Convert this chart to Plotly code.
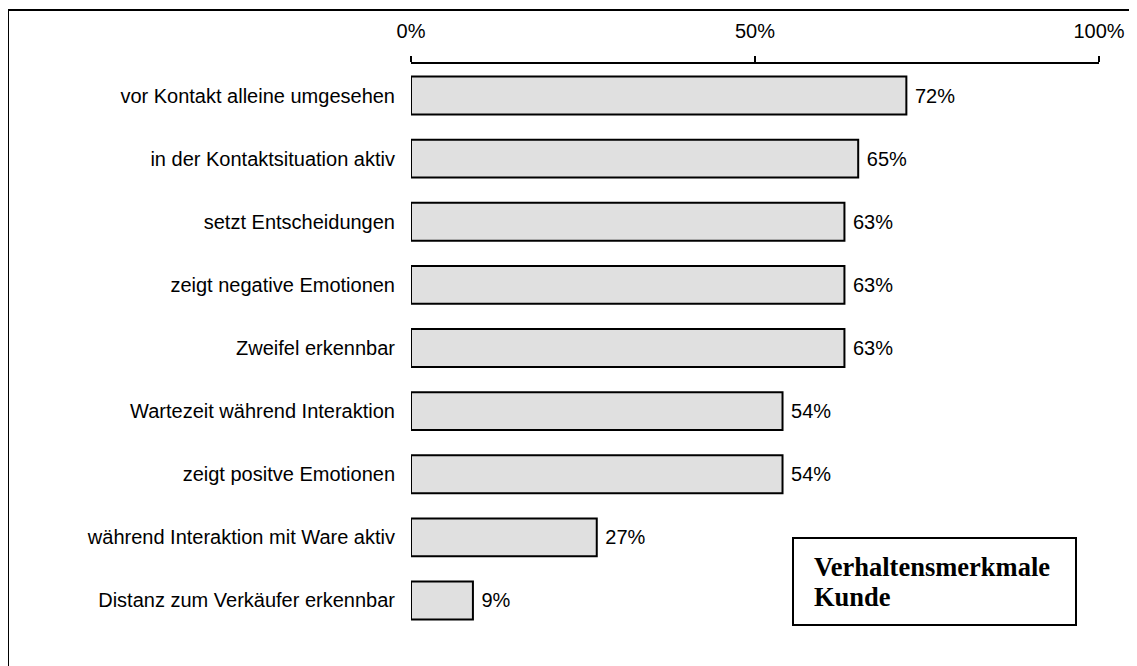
import plotly.graph_objects as go

categories = [
    "vor Kontakt alleine umgesehen",
    "in der Kontaktsituation aktiv",
    "setzt Entscheidungen",
    "zeigt negative Emotionen",
    "Zweifel erkennbar",
    "Wartezeit während Interaktion",
    "zeigt positve Emotionen",
    "während Interaktion mit Ware aktiv",
    "Distanz zum Verkäufer erkennbar",
]
values = [72, 65, 63, 63, 63, 54, 54, 27, 9]
tick_vals = [0, 50, 100]
tick_text = ["0%", "50%", "100%"]
legend_lines = ["Verhaltensmerkmale", "Kunde"]

W, H = 1137, 666
ML, MR, MT, MB = 403, 46, 56, 42
pw, ph = W - ML - MR, H - MT - MB

def px_x(x):
    return (x - ML) / pw

def px_y(y):
    return (H - MB - y) / ph

FONT = "Liberation Sans, Arial"

fig = go.Figure(go.Bar(
    x=values, y=categories, orientation="h",
    width=0.6,
    marker=dict(color="#e0e0e0", line=dict(color="black", width=2)),
    text=[f"\u00a0{v}%" for v in values], textposition="outside",
    textfont=dict(family=FONT, size=20, color="black"),
    cliponaxis=False,
))

fig.update_layout(
    width=W, height=H,
    margin=dict(l=ML, r=MR, t=MT, b=MB),
    paper_bgcolor="white", plot_bgcolor="white",
    showlegend=False,
    font=dict(family=FONT, size=20, color="black"),
    xaxis=dict(
        side="top", range=[0, 100], tickvals=tick_vals, ticktext=tick_text,
        showline=True, linecolor="black", linewidth=2,
        ticks="outside", ticklen=6, tickwidth=2, tickcolor="black",
        showgrid=False, zeroline=False, ticklabelstandoff=10,
        tickfont=dict(size=20),
    ),
    yaxis=dict(
        autorange="reversed", showgrid=False, showline=False, ticks="",
        ticklabelstandoff=15, tickfont=dict(size=20),
    ),
    shapes=[
        dict(type="line", xref="paper", yref="paper",
             x0=px_x(0), x1=px_x(1140), y0=px_y(2), y1=px_y(2),
             line=dict(color="black", width=2)),
        dict(type="line", xref="paper", yref="paper",
             x0=px_x(0), x1=px_x(0), y0=px_y(2), y1=px_y(670),
             line=dict(color="black", width=2)),
        dict(type="rect", xref="paper", yref="paper",
             x0=px_x(785), x1=px_x(1068), y0=px_y(530), y1=px_y(617),
             line=dict(color="black", width=2), fillcolor="white", layer="above"),
    ],
    annotations=[
        dict(text=f"<b>{s}</b>", xref="paper", yref="paper",
             x=px_x(804), y=px_y(yc), xanchor="left", yanchor="middle",
             align="left", showarrow=False,
             font=dict(family="Liberation Serif, Times New Roman", size=26.5, color="black"))
        for s, yc in zip(legend_lines, [559, 589])
    ],
)

fig.write_html("out.html")
